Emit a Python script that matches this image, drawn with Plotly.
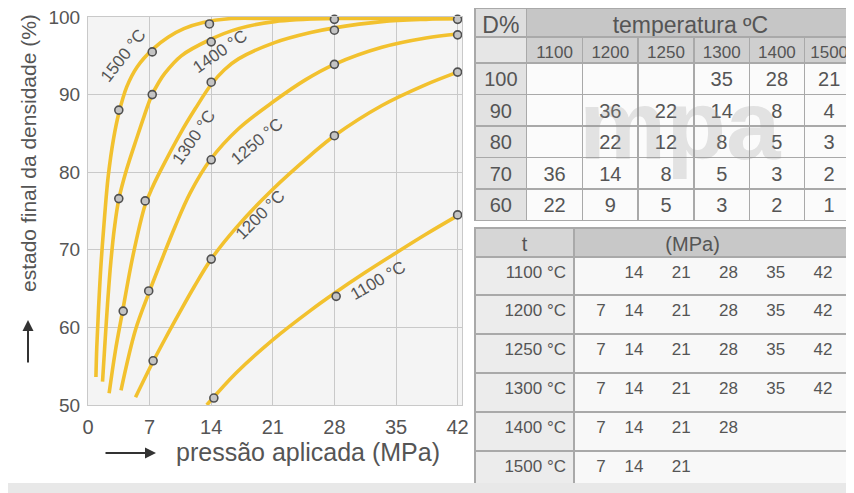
import plotly.graph_objects as go

# page body has an 8 px margin: the figure is sized so that it fills the 854x493 window
OFF = 8
W, H = 854 - OFF, 493 - OFF
FONT = "Liberation Sans, Arial, Helvetica, sans-serif"
TXT = "#555555"
YEL = "#f2c12e"

# ---------------- chart data ----------------
x_ticks = [0, 7, 14, 21, 28, 35, 42]
y_ticks = [50, 60, 70, 80, 90, 100]

curve_names = ["1500 °C", "1400 °C", "1300 °C", "1250 °C", "1200 °C", "1100 °C"]

c1500_x = [0.9, 1.0, 1.2, 1.5, 1.9, 2.3, 2.9, 3.5, 4.4, 5.6, 7.4, 9.1, 10.9, 13.1, 16.3, 21.0, 42.0]
c1500_y = [53.6, 57.5, 62.5, 68.5, 74.5, 79.5, 84.3, 87.6, 91.0, 93.6, 95.9, 97.4, 98.5, 99.3, 99.8, 99.8, 99.8]

c1400_x = [1.65, 1.9, 2.25, 2.6, 3.0, 3.5, 4.4, 5.6, 6.4, 7.2, 8.0, 8.7, 10.6, 13.9, 17.1, 21.2, 27.4, 42.0]
c1400_y = [53.0, 57.5, 63.5, 68.5, 72.8, 76.5, 80.4, 84.6, 87.3, 89.8, 91.5, 92.7, 95.0, 97.1, 98.5, 99.4, 99.8, 99.8]

c1300_x = [2.4, 3.1, 3.9, 5.1, 6.5, 7.3, 8.2, 10.6, 12.2, 14.0, 15.5, 17.1, 21.2, 25.3, 28.0, 33.4, 38.4, 42.0]
c1300_y = [51.5, 56.9, 61.9, 69.2, 75.8, 78.0, 80.1, 85.2, 88.2, 91.3, 93.2, 94.6, 96.7, 98.0, 98.6, 99.4, 99.7, 99.8]

c1250_x = [3.75, 5.4, 6.9, 8.2, 9.9, 11.6, 13.9, 17.1, 21.2, 24.7, 28.0, 33.4, 38.4, 42.0]
c1250_y = [51.9, 59.7, 64.4, 68.2, 73.0, 77.3, 81.6, 85.6, 89.2, 91.9, 93.9, 96.1, 97.3, 97.8]

c1200_x = [5.4, 7.4, 8.8, 10.4, 12.1, 14.0, 16.8, 21.0, 25.3, 28.0, 33.4, 38.2, 42.0]
c1200_y = [51.0, 55.6, 58.6, 61.9, 65.3, 68.8, 72.8, 77.8, 82.2, 84.7, 88.6, 91.2, 92.9]

c1100_x = [13.5, 16.8, 21.0, 25.3, 28.0, 31.4, 35.0, 38.4, 42.0]
c1100_y = [50.0, 54.1, 58.4, 62.2, 64.4, 67.0, 69.6, 72.0, 74.4]

# measured points (circles)
m1500_x = [3.5, 7.3, 13.8]
m1500_y = [88.0, 95.5, 99.1]
m1400_x = [3.5, 7.3, 14.0, 28.0, 42.0]
m1400_y = [76.6, 90.0, 96.8, 99.7, 100.1]
m1300_x = [4.0, 6.5, 14.0, 28.0, 42.0]
m1300_y = [62.1, 76.3, 91.6, 98.3, 99.7]
m1250_x = [6.9, 14.0, 28.0, 42.0]
m1250_y = [64.7, 81.6, 93.9, 97.7]
m1200_x = [7.4, 14.0, 28.0, 42.0]
m1200_y = [55.7, 68.8, 84.7, 92.9]
m1100_x = [14.3, 28.2, 42.0]
m1100_y = [50.9, 64.0, 74.5]

# curve label positions (data units) and angles
label_x = [4.0, 15.0, 12.0, 19.2, 19.6, 33.0]
label_y = [95.1, 95.6, 84.5, 84.0, 74.6, 66.0]
label_ang = [-52, -35, -55, -40, -45, -30]

# ---------------- table data ----------------
t1_corner = "D%"
t1_title = "temperatura ºC"
t1_temps = ["1100", "1200", "1250", "1300", "1400", "1500"]
t1_dens = ["100", "90", "80", "70", "60"]
t1_r100 = ["", "", "", "35", "28", "21"]
t1_r90 = ["", "36", "22", "14", "8", "4"]
t1_r80 = ["", "22", "12", "8", "5", "3"]
t1_r70 = ["36", "14", "8", "5", "3", "2"]
t1_r60 = ["22", "9", "5", "3", "2", "1"]

t2_corner = "t"
t2_title = "(MPa)"
t2_temps = ["1100 °C", "1200 °C", "1250 °C", "1300 °C", "1400 °C", "1500 °C"]
t2_slots = [7, 14, 21, 28, 35, 42]
t2_p1100 = [14, 21, 28, 35, 42]
t2_p1200 = [7, 14, 21, 28, 35, 42]
t2_p1250 = [7, 14, 21, 28, 35, 42]
t2_p1300 = [7, 14, 21, 28, 35, 42]
t2_p1400 = [7, 14, 21, 28]
t2_p1500 = [7, 14, 21]

# ---------------- figure ----------------
fig = go.Figure()

curves = [(c1500_x, c1500_y), (c1400_x, c1400_y), (c1300_x, c1300_y),
          (c1250_x, c1250_y), (c1200_x, c1200_y), (c1100_x, c1100_y)]
marks = [(m1500_x, m1500_y), (m1400_x, m1400_y), (m1300_x, m1300_y),
         (m1250_x, m1250_y), (m1200_x, m1200_y), (m1100_x, m1100_y)]

for name, (cx, cy) in zip(curve_names, curves):
    fig.add_trace(go.Scatter(x=cx, y=cy, mode="lines", name=name,
                             line=dict(color=YEL, width=3.6, shape="spline", smoothing=1.0),
                             hoverinfo="skip"))
for name, (mx, my) in zip(curve_names, marks):
    fig.add_trace(go.Scatter(x=mx, y=my, mode="markers", name=name, cliponaxis=False,
                             marker=dict(size=8, color="#c4c4c4",
                                         line=dict(color="#505050", width=1.6))))

NB = "\u00a0"


def pressure_row(present):
    s = NB * 3
    for i, p in enumerate(t2_slots):
        tok = str(p) if p in present else NB * (2 * len(str(p)))
        s += tok
        if i < len(t2_slots) - 1:
            s += NB * (4 if i == 0 else 6)
    return s


def py(sy):
    # screen pixel row -> paper fraction
    return 1 - (sy - OFF) / H


def pxx(sx):
    # screen pixel column -> paper fraction
    return (sx - OFF) / W


LINE = "#a9a9a9"

# table 1 header row
fig.add_trace(go.Table(
    domain=dict(x=[pxx(475), 1.0], y=[py(44), py(8)]),
    columnwidth=[52, 329],
    header=dict(values=[t1_corner, t1_title], height=29,
                fill=dict(color=["#dedede", "#c6c6c6"]),
                line=dict(color=LINE, width=1.5),
                align=["center", "center"],
                font=dict(family=FONT, size=23, color=TXT)),
    cells=dict(values=[[], []], height=1)))

# table 1 body
rows1 = [t1_r100, t1_r90, t1_r80, t1_r70, t1_r60]
cols1 = [t1_dens] + [[r[j] for r in rows1] for j in range(len(t1_temps))]
fig.add_trace(go.Table(
    domain=dict(x=[pxx(475), 1.0], y=[py(226), py(37)]),
    columnwidth=[52, 56, 56, 56, 56, 55, 50],
    header=dict(values=[""] + t1_temps, height=26,
                fill=dict(color=["#e6e6e6"] + ["#cfcfcf"] * 6),
                line=dict(color=LINE, width=1.5),
                align="center",
                font=dict(family=FONT, size=17, color=TXT)),
    cells=dict(values=cols1, height=31.5,
               fill=dict(color=["#e2e2e2"] + ["#fbfbfb"] * 6),
               line=dict(color=LINE, width=1.5),
               align="center",
               font=dict(family=FONT, size=20, color=TXT))))

# table 2 header row
fig.add_trace(go.Table(
    domain=dict(x=[pxx(475), 1.0], y=[py(262), py(228)]),
    columnwidth=[99, 280],
    header=dict(values=[t2_corner, NB * 15 + t2_title], height=29,
                fill=dict(color=["#d6d6d6", "#c8c8c8"]),
                line=dict(color=LINE, width=1.5),
                align=["center", "left"],
                font=dict(family=FONT, size=20, color=TXT)),
    cells=dict(values=[[], []], height=1)))

# table 2 body
p_rows = [t2_p1100, t2_p1200, t2_p1250, t2_p1300, t2_p1400, t2_p1500]
p_text = [pressure_row(r) for r in p_rows]
fig.add_trace(go.Table(
    domain=dict(x=[pxx(475), 1.0], y=[0.0, py(257)]),
    columnwidth=[99, 280],
    header=dict(values=[t2_temps[0], p_text[0]], height=38,
                fill=dict(color=["#ececec", "#f8f8f8"]),
                line=dict(color=LINE, width=1.5),
                align=["right", "left"],
                font=dict(family=FONT, size=17, color=TXT)),
    cells=dict(values=[t2_temps[1:], p_text[1:]], height=39,
               fill=dict(color=["#ececec", "#f8f8f8"]),
               line=dict(color=LINE, width=1.5),
               align=["right", "left"],
               font=dict(family=FONT, size=17, color=TXT))))

annotations = []
for name, lx, ly, ang in zip(curve_names, label_x, label_y, label_ang):
    annotations.append(dict(x=lx, y=ly, xref="x", yref="y", text=name, showarrow=False,
                            xanchor="center", yanchor="middle",
                            textangle=ang, font=dict(family=FONT, size=17, color=TXT)))

# axis titles
annotations.append(dict(x=pxx(28), y=py(153), xref="paper", yref="paper",
                        xanchor="center", yanchor="middle",
                        text="estado final da densidade (%)", textangle=-90, showarrow=False,
                        font=dict(family=FONT, size=21, color=TXT)))
annotations.append(dict(x=pxx(308), y=py(452), xref="paper", yref="paper",
                        xanchor="center", yanchor="middle",
                        text="pressão aplicada (MPa)", showarrow=False,
                        font=dict(family=FONT, size=25, color=TXT)))
# arrows
annotations.append(dict(x=pxx(28), y=py(320), xref="paper", yref="paper", text="",
                        showarrow=True, ax=0, ay=44, arrowhead=2, arrowsize=1.1,
                        arrowwidth=2, arrowcolor="#333333"))
annotations.append(dict(x=pxx(156), y=py(453), xref="paper", yref="paper", text="",
                        showarrow=True, ax=-52, ay=0, arrowhead=2, arrowsize=1.1,
                        arrowwidth=2, arrowcolor="#333333"))
# watermark
annotations.append(dict(x=pxx(680), y=py(125), xref="paper", yref="paper", text="<b>mpa</b>",
                        xanchor="center", yanchor="middle", showarrow=False,
                        font=dict(family=FONT, size=98, color="rgba(150,150,150,0.25)")))

fig.update_layout(
    width=W, height=H,
    margin=dict(l=0, r=0, t=0, b=0, pad=0, autoexpand=False),
    paper_bgcolor="white",
    plot_bgcolor="#f4f4f4",
    showlegend=False,
    annotations=annotations,
    shapes=[dict(type="rect", xref="paper", yref="paper", x0=0, x1=1, y0=0, y1=py(483),
                 fillcolor="#e8e8e8", line=dict(width=0), layer="above")],
    xaxis=dict(domain=[pxx(88), pxx(462)], range=[0, 42.5], tickvals=x_ticks,
               showgrid=True, gridcolor="#c9c9c9", gridwidth=1, zeroline=False,
               showline=True, mirror=True, linecolor="#c9c9c9", ticks="", automargin=False,
               ticklabeloverflow="allow",
               tickfont=dict(family=FONT, size=20, color=TXT), ticklabelstandoff=4),
    yaxis=dict(domain=[py(405), py(17)], range=[50, 100], tickvals=y_ticks,
               showgrid=True, gridcolor="#c9c9c9", gridwidth=1, zeroline=False,
               showline=True, mirror=True, linecolor="#c9c9c9", ticks="", automargin=False,
               ticklabeloverflow="allow",
               tickfont=dict(family=FONT, size=19, color=TXT), ticklabelstandoff=3),
)

fig.write_html("out.html")
